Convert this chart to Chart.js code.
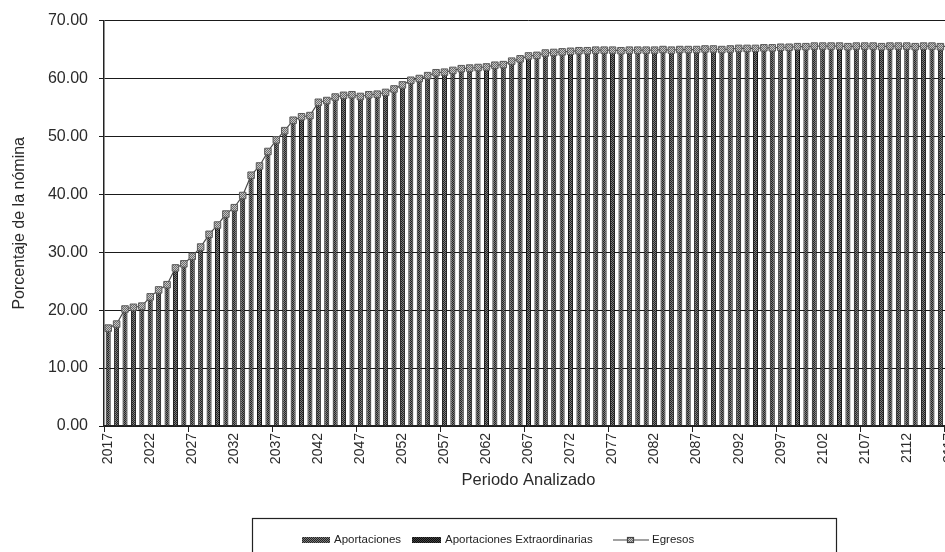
<!DOCTYPE html>
<html>
<head>
<meta charset="utf-8">
<script src="https://cdn.jsdelivr.net/npm/chart.js@4.4.1/dist/chart.umd.min.js"></script>
<style>
  html, body { margin: 0; padding: 0; background: #fff; overflow: hidden; }
  #wrap { width: 975px; height: 552px; }
</style>
</head>
<body>
<div id="wrap"><canvas id="chart" width="975" height="552"></canvas></div>
<script>
const years = [
  2017, 2018, 2019, 2020, 2021, 2022, 2023, 2024, 2025, 2026,
  2027, 2028, 2029, 2030, 2031, 2032, 2033, 2034, 2035, 2036,
  2037, 2038, 2039, 2040, 2041, 2042, 2043, 2044, 2045, 2046,
  2047, 2048, 2049, 2050, 2051, 2052, 2053, 2054, 2055, 2056,
  2057, 2058, 2059, 2060, 2061, 2062, 2063, 2064, 2065, 2066,
  2067, 2068, 2069, 2070, 2071, 2072, 2073, 2074, 2075, 2076,
  2077, 2078, 2079, 2080, 2081, 2082, 2083, 2084, 2085, 2086,
  2087, 2088, 2089, 2090, 2091, 2092, 2093, 2094, 2095, 2096,
  2097, 2098, 2099, 2100, 2101, 2102, 2103, 2104, 2105, 2106,
  2107, 2108, 2109, 2110, 2111, 2112, 2113, 2114, 2115, 2116,
  2117
];

// % de la nómina
const aportaciones = [
  16.9, 17.6, 20.2, 20.5, 20.7, 22.3, 23.5, 24.4, 27.3, 28.0,
  29.3, 30.9, 33.1, 34.7, 36.6, 37.7, 39.8, 43.3, 44.9, 47.4,
  49.4, 51.0, 52.8, 53.4, 53.6, 55.9, 56.2, 56.8, 57.1, 57.2,
  56.9, 57.2, 57.3, 57.6, 58.2, 58.9, 59.7, 60.0, 60.5, 61.0,
  61.1, 61.4, 61.7, 61.8, 61.9, 62.0, 62.3, 62.4, 63.0, 63.4,
  63.9, 64.0, 64.4, 64.5, 64.6, 64.7, 64.8, 64.8, 64.9, 64.9,
  64.9, 64.8, 64.9, 64.9, 64.9, 64.9, 65.0, 64.9, 65.0, 65.0,
  65.0, 65.1, 65.1, 65.0, 65.1, 65.2, 65.2, 65.2, 65.3, 65.3,
  65.4, 65.4, 65.5, 65.5, 65.6, 65.6, 65.6, 65.6, 65.5, 65.6,
  65.6, 65.6, 65.5, 65.6, 65.6, 65.6, 65.5, 65.6, 65.6, 65.5,
  65.6
];

const extraordinarias = [
  0, 0, 0, 0, 0, 0, 0, 0, 0, 0,
  0, 0, 0, 0, 0, 0, 0, 0, 0, 0,
  0, 0, 0, 0, 0, 0, 0, 0, 0, 0,
  0, 0, 0, 0, 0, 0, 0, 0, 0, 0,
  0, 0, 0, 0, 0, 0, 0, 0, 0, 0,
  0, 0, 0, 0, 0, 0, 0, 0, 0, 0,
  0, 0, 0, 0, 0, 0, 0, 0, 0, 0,
  0, 0, 0, 0, 0, 0, 0, 0, 0, 0,
  0, 0, 0, 0, 0, 0, 0, 0, 0, 0,
  0, 0, 0, 0, 0, 0, 0, 0, 0, 0,
  0
];

const egresos = [
  16.9, 17.6, 20.2, 20.5, 20.7, 22.3, 23.5, 24.4, 27.3, 28.0,
  29.3, 30.9, 33.1, 34.7, 36.6, 37.7, 39.8, 43.3, 44.9, 47.4,
  49.4, 51.0, 52.8, 53.4, 53.6, 55.9, 56.2, 56.8, 57.1, 57.2,
  56.9, 57.2, 57.3, 57.6, 58.2, 58.9, 59.7, 60.0, 60.5, 61.0,
  61.1, 61.4, 61.7, 61.8, 61.9, 62.0, 62.3, 62.4, 63.0, 63.4,
  63.9, 64.0, 64.4, 64.5, 64.6, 64.7, 64.8, 64.8, 64.9, 64.9,
  64.9, 64.8, 64.9, 64.9, 64.9, 64.9, 65.0, 64.9, 65.0, 65.0,
  65.0, 65.1, 65.1, 65.0, 65.1, 65.2, 65.2, 65.2, 65.3, 65.3,
  65.4, 65.4, 65.5, 65.5, 65.6, 65.6, 65.6, 65.6, 65.5, 65.6,
  65.6, 65.6, 65.5, 65.6, 65.6, 65.6, 65.5, 65.6, 65.6, 65.5,
  65.6
];

const yTicks = [0, 10, 20, 30, 40, 50, 60, 70];

const FONT = "'Liberation Sans', Arial, sans-serif";
const canvas = document.getElementById("chart");
const ctx = canvas.getContext("2d");

// little 2x2 speckle used as a print-style fill
function speckle(light, dark) {
  const c = document.createElement("canvas");
  c.width = 2; c.height = 2;
  const g = c.getContext("2d");
  g.fillStyle = light; g.fillRect(0, 0, 2, 2);
  g.fillStyle = dark; g.fillRect(0, 0, 1, 1); g.fillRect(1, 1, 1, 1);
  return ctx.createPattern(c, "repeat");
}

const fillAport = speckle("#7a7a7a", "#222");
const fillExtra = speckle("#444", "#0a0a0a");
const fillMarker = speckle("#c8c8c8", "#6a6a6a");

// boxed legend under the axis title
const boxedLegend = {
  id: "boxedLegend",
  afterDraw(chart) {
    const c = chart.ctx;
    const ds = chart.data.datasets;
    const y = 540;
    c.save();
    c.strokeStyle = "#222";
    c.lineWidth = 1.2;
    c.strokeRect(252.5, 518.5, 584, 60);
    c.font = "11.5px " + FONT;
    c.textBaseline = "middle";

    c.fillStyle = fillAport;
    c.fillRect(302, y - 3, 28, 6);
    c.fillStyle = "#222";
    c.fillText(ds[0].label, 334, y);

    c.fillStyle = fillExtra;
    c.fillRect(412, y - 3, 29, 6);
    c.fillStyle = "#222";
    c.fillText(ds[1].label, 445, y);

    c.strokeStyle = "#444";
    c.lineWidth = 1.2;
    c.beginPath(); c.moveTo(613, y); c.lineTo(649, y); c.stroke();
    c.fillStyle = fillMarker;
    c.fillRect(627, y - 3, 7, 6);
    c.strokeRect(627.5, y - 2.5, 6, 5);
    c.fillStyle = "#222";
    c.fillText(ds[2].label, 652, y);
    c.restore();
  }
};

new Chart(ctx, {
  type: "bar",
  data: {
    labels: years,
    datasets: [
      {
        label: "Aportaciones",
        data: aportaciones,
        backgroundColor: fillAport,
        borderColor: "#111",
        borderWidth: 1,
        barPercentage: 0.6,
        categoryPercentage: 1,
        order: 2
      },
      {
        label: "Aportaciones Extraordinarias",
        data: extraordinarias,
        backgroundColor: fillExtra,
        borderColor: "#111",
        borderWidth: 0,
        barPercentage: 0.6,
        categoryPercentage: 1,
        order: 1
      },
      {
        type: "line",
        label: "Egresos",
        data: egresos,
        stack: "egresos",
        borderColor: "#4a4a4a",
        borderWidth: 1.2,
        pointStyle: "rect",
        pointRadius: 4.6,
        pointBackgroundColor: fillMarker,
        pointBorderColor: "#5a5a5a",
        pointBorderWidth: 1,
        tension: 0,
        order: 0
      }
    ]
  },
  options: {
    responsive: false,
    animation: false,
    devicePixelRatio: 1,
    layout: { padding: { top: 8, left: 6, right: 22, bottom: 62 } },
    plugins: {
      legend: { display: false },
      tooltip: { enabled: false }
    },
    scales: {
      x: {
        stacked: true,
        offset: true,
        grid: {
          offset: true,
          drawOnChartArea: false,
          drawTicks: true,
          tickLength: 6,
          color: c => (c.index % 10 === 0 ? "#222" : "rgba(0,0,0,0)")
        },
        border: { color: "#222", width: 1.5 },
        ticks: {
          autoSkip: false,
          minRotation: 90,
          maxRotation: 90,
          padding: 1,
          color: "#2a2a2a",
          font: { family: FONT, size: 14 },
          callback: (v, i) => (i % 5 === 0 ? String(years[i]) : "")
        },
        title: {
          display: true,
          text: "Periodo Analizado",
          color: "#2a2a2a",
          font: { family: FONT, size: 16.5 },
          padding: { top: 0, bottom: 0 }
        },
        afterFit: s => { s.height = 64; }
      },
      y: {
        stacked: true,
        min: 0,
        max: 70,
        afterBuildTicks: s => { s.ticks = yTicks.map(v => ({ value: v })); },
        grid: { color: "#1a1a1a", lineWidth: 1, tickLength: 5 },
        border: { color: "#222", width: 1.5 },
        ticks: {
          padding: 11,
          color: "#2a2a2a",
          font: { family: FONT, size: 16 },
          callback: v => Number(v).toFixed(2)
        },
        title: {
          display: true,
          text: "Porcentaje de la nómina",
          color: "#2a2a2a",
          font: { family: FONT, size: 16 },
          padding: { top: 4, bottom: 0 }
        },
        afterFit: s => { s.width = 98; }
      }
    }
  },
  plugins: [boxedLegend]
});
</script>
</body>
</html>
